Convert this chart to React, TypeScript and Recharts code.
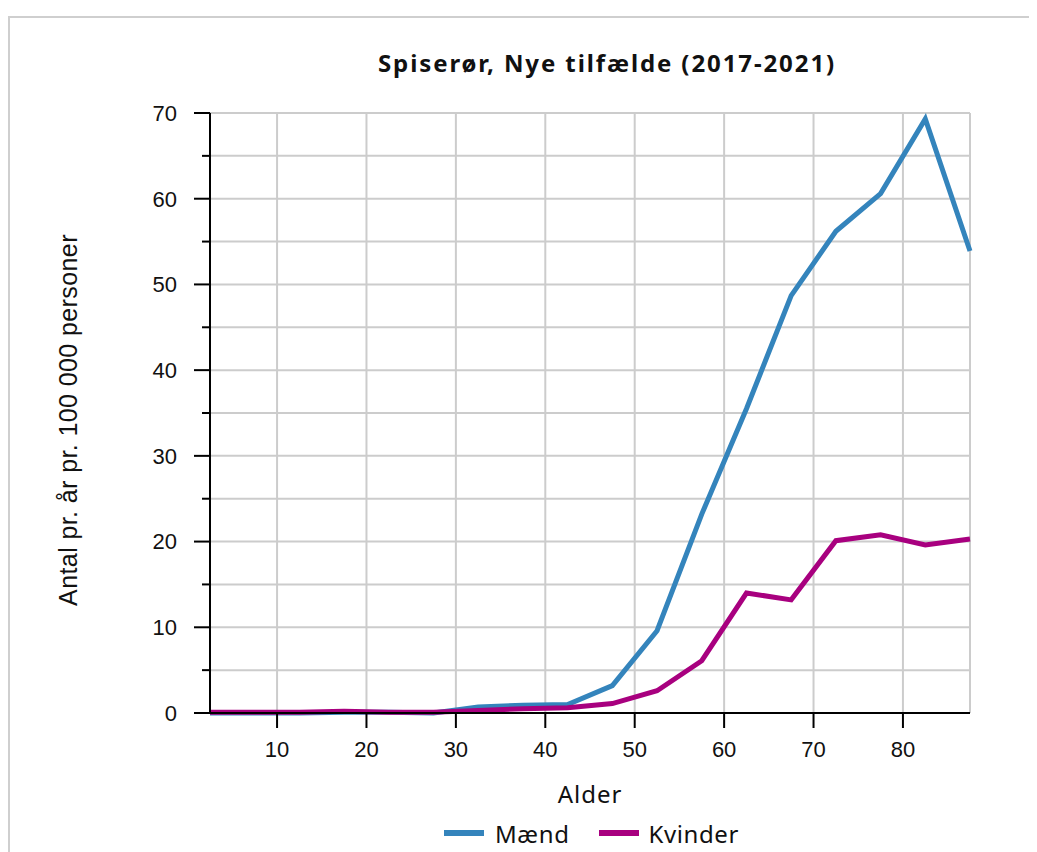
import { LineChart, Line, XAxis, YAxis, CartesianGrid, Label } from 'recharts';

const alder = [2.5, 7.5, 12.5, 17.5, 22.5, 27.5, 32.5, 37.5, 42.5, 47.5, 52.5, 57.5, 62.5, 67.5, 72.5, 77.5, 82.5, 87.5];
const maend = [0, 0, 0, 0.1, 0.1, 0, 0.7, 0.9, 1.0, 3.2, 9.6, 23.2, 35.5, 48.7, 56.2, 60.6, 69.3, 53.9];
const kvinder = [0.1, 0.1, 0.1, 0.2, 0.1, 0.1, 0.3, 0.5, 0.6, 1.1, 2.6, 6.1, 14.0, 13.2, 20.1, 20.8, 19.6, 20.3];

const xTicks = [10, 20, 30, 40, 50, 60, 70, 80];
const yTicks = [0, 5, 10, 15, 20, 25, 30, 35, 40, 45, 50, 55, 60, 65, 70];

const data = alder.map((a, i) => ({ alder: a, maend: maend[i], kvinder: kvinder[i] }));

const BLUE = '#3484bc';
const PINK = '#a8007f';
const tickFont = '"Liberation Sans", Arial, sans-serif';
const textFont = '"Noto Sans", sans-serif';

const YTick = (props: any) => {
  const { x, y, payload } = props;
  const major = payload.value % 10 === 0;
  return (
    <g>
      <line x1={x - (major ? 16 : 8)} x2={x} y1={y} y2={y} stroke="#000" strokeWidth={2} />
      {major && (
        <text x={x - 33} y={y} dy="0.36em" textAnchor="end" fontSize={22} fontFamily={tickFont} fill="#111">
          {payload.value}
        </text>
      )}
    </g>
  );
};

export default function App() {
  return (
    <div style={{ position: 'relative', width: 1029, height: 844, overflow: 'hidden' }}>
      <div
        style={{
          position: 'absolute',
          left: 0,
          top: 8,
          width: 1200,
          height: 1000,
          borderTop: '2px solid #cfcfcf',
          borderLeft: '2px solid #cfcfcf',
        }}
      />
      <div
        style={{
          position: 'absolute',
          left: 299,
          top: 40,
          width: 600,
          textAlign: 'center',
          fontFamily: textFont,
          fontWeight: 700,
          fontSize: 24,
          letterSpacing: 1.9,
          lineHeight: '30px',
          color: '#111',
        }}
      >
        Spiserør, Nye tilfælde (2017-2021)
      </div>
      <div style={{ position: 'absolute', left: 0, top: 0 }}>
        <LineChart width={1029} height={844} data={data} margin={{ top: 105, right: 67, bottom: 44, left: 0 }}>
          <CartesianGrid stroke="#cccccc" strokeWidth={2} />
          <XAxis
            dataKey="alder"
            type="number"
            domain={[2.5, 87.5]}
            ticks={xTicks}
            height={95}
            tickSize={15}
            tickMargin={13}
            axisLine={{ stroke: '#000', strokeWidth: 2 }}
            tickLine={{ stroke: '#000', strokeWidth: 2 }}
            tick={{ fontSize: 22, fontFamily: tickFont, fill: '#111' }}
          >
            <Label
              content={(p: any) => {
                const vb = p.viewBox;
                return (
                  <text
                    x={vb.x + vb.width / 2}
                    y={vb.y + 90}
                    textAnchor="middle"
                    fontSize={24}
                    letterSpacing={1}
                    fontFamily={textFont}
                    fill="#111"
                  >
                    Alder
                  </text>
                );
              }}
            />
          </XAxis>
          <YAxis
            type="number"
            domain={[0, 70]}
            ticks={yTicks}
            width={202}
            tickSize={0}
            tickMargin={0}
            tickLine={false}
            interval={0}
            axisLine={{ stroke: '#000', strokeWidth: 2 }}
            tick={<YTick />}
          >
            <Label
              content={(p: any) => {
                const vb = p.viewBox;
                const cx = 60;
                const cy = vb.y + vb.height / 2 + 7;
                return (
                  <text
                    x={cx}
                    y={cy}
                    dy="0.35em"
                    textAnchor="middle"
                    transform={`rotate(-90 ${cx} ${cy})`}
                    fontSize={25}
                    letterSpacing={0.4}
                    fontFamily={tickFont}
                    fill="#111"
                  >
                    Antal pr. år pr. 100 000 personer
                  </text>
                );
              }}
            />
          </YAxis>
          <Line type="linear" dataKey="maend" stroke={BLUE} strokeWidth={5} dot={false} activeDot={false} isAnimationActive={false} />
          <Line type="linear" dataKey="kvinder" stroke={PINK} strokeWidth={5} dot={false} activeDot={false} isAnimationActive={false} />
        </LineChart>
      </div>
      <div
        style={{
          position: 'absolute',
          left: 436,
          top: 810,
          height: 30,
          display: 'flex',
          alignItems: 'center',
          fontFamily: textFont,
          fontSize: 24,
          letterSpacing: 0.6,
          color: '#111',
        }}
      >
        <span style={{ display: 'inline-block', width: 40, height: 6, background: BLUE, marginRight: 11 }} />
        <span style={{ marginRight: 29 }}>Mænd</span>
        <span style={{ display: 'inline-block', width: 40, height: 6, background: PINK, marginRight: 10 }} />
        <span>Kvinder</span>
      </div>
    </div>
  );
}
